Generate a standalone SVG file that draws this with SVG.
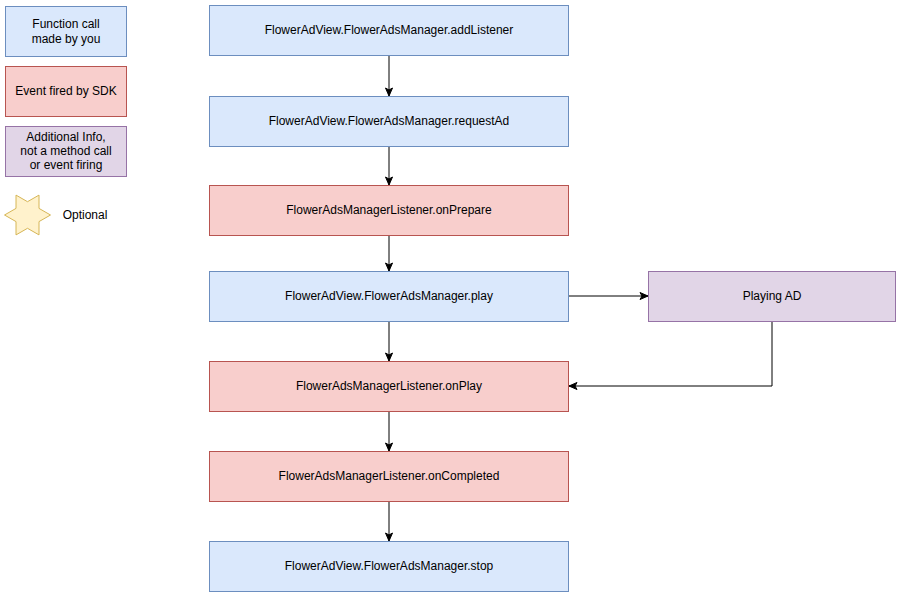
<svg xmlns="http://www.w3.org/2000/svg" width="901" height="597" viewBox="0 0 901 597">
<defs>
<style>
.blue{fill:#dae8fc;stroke:#6c8ebf;stroke-width:1}
.red{fill:#f8cecc;stroke:#b85450;stroke-width:1}
.purple{fill:#e1d5e7;stroke:#9673a6;stroke-width:1}
.star{fill:#fff2cc;stroke:#d6b656;stroke-width:1}
text{font-family:"Liberation Sans",Arial,Helvetica,sans-serif;font-size:12px;fill:#000;text-anchor:middle;dominant-baseline:central}
.edge{fill:none;stroke:#000;stroke-width:1}
</style>
<marker id="arr" markerWidth="10" markerHeight="10" refX="9" refY="5" orient="auto" markerUnits="userSpaceOnUse">
<path d="M1,1.5 L9,5 L1,8.5 L3,5 Z" fill="#000" stroke="#000" stroke-width="1"/>
</marker>
</defs>
<rect width="901" height="597" fill="#fff"/>
<g id="legend-function">
<rect class="blue" x="5.5" y="6.5" width="121" height="50"/>
<text x="66" y="24">Function call</text>
<text x="66" y="39">made by you</text>
</g>
<g id="legend-event">
<rect class="red" x="5.5" y="66.5" width="121" height="50"/>
<text x="66" y="91">Event fired by SDK</text>
</g>
<g id="legend-info">
<rect class="purple" x="5.5" y="126.5" width="121" height="50"/>
<text x="66" y="137">Additional Info,</text>
<text x="66" y="151">not a method call</text>
<text x="66" y="165">or event firing</text>
</g>
<g id="legend-optional">
<path class="star" d="M50.5,215 L39,208.4 L39,195.1 L27.5,201.7 L16,195.1 L16,208.4 L4.5,215 L16,221.6 L16,234.9 L27.5,228.3 L39,234.9 L39,221.6 Z"/>
<text x="85" y="215">Optional</text>
</g>
<g id="connectors">
<path class="edge" d="M389,56 L389,96" marker-end="url(#arr)"/>
<path class="edge" d="M389,147 L389,185" marker-end="url(#arr)"/>
<path class="edge" d="M389,236 L389,271" marker-end="url(#arr)"/>
<path class="edge" d="M569,296 L648,296" marker-end="url(#arr)"/>
<path class="edge" d="M389,322 L389,361" marker-end="url(#arr)"/>
<path class="edge" d="M772,322 L772,386 L569,386" marker-end="url(#arr)"/>
<path class="edge" d="M389,412 L389,451" marker-end="url(#arr)"/>
<path class="edge" d="M389,502 L389,541" marker-end="url(#arr)"/>
</g>
<g id="addListener">
<rect class="blue" x="209.5" y="5.5" width="359" height="50"/>
<text x="389" y="30">FlowerAdView.FlowerAdsManager.addListener</text>
</g>
<g id="requestAd">
<rect class="blue" x="209.5" y="96.5" width="359" height="50"/>
<text x="389" y="121">FlowerAdView.FlowerAdsManager.requestAd</text>
</g>
<g id="onPrepare">
<rect class="red" x="209.5" y="185.5" width="359" height="50"/>
<text x="389" y="210">FlowerAdsManagerListener.onPrepare</text>
</g>
<g id="play">
<rect class="blue" x="209.5" y="271.5" width="359" height="50"/>
<text x="389" y="296">FlowerAdView.FlowerAdsManager.play</text>
</g>
<g id="playingAd">
<rect class="purple" x="648.5" y="271.5" width="247" height="50"/>
<text x="772" y="296">Playing AD</text>
</g>
<g id="onPlay">
<rect class="red" x="209.5" y="361.5" width="359" height="50"/>
<text x="389" y="386">FlowerAdsManagerListener.onPlay</text>
</g>
<g id="onCompleted">
<rect class="red" x="209.5" y="451.5" width="359" height="50"/>
<text x="389" y="476">FlowerAdsManagerListener.onCompleted</text>
</g>
<g id="stop">
<rect class="blue" x="209.5" y="541.5" width="359" height="50"/>
<text x="389" y="566">FlowerAdView.FlowerAdsManager.stop</text>
</g>
</svg>
